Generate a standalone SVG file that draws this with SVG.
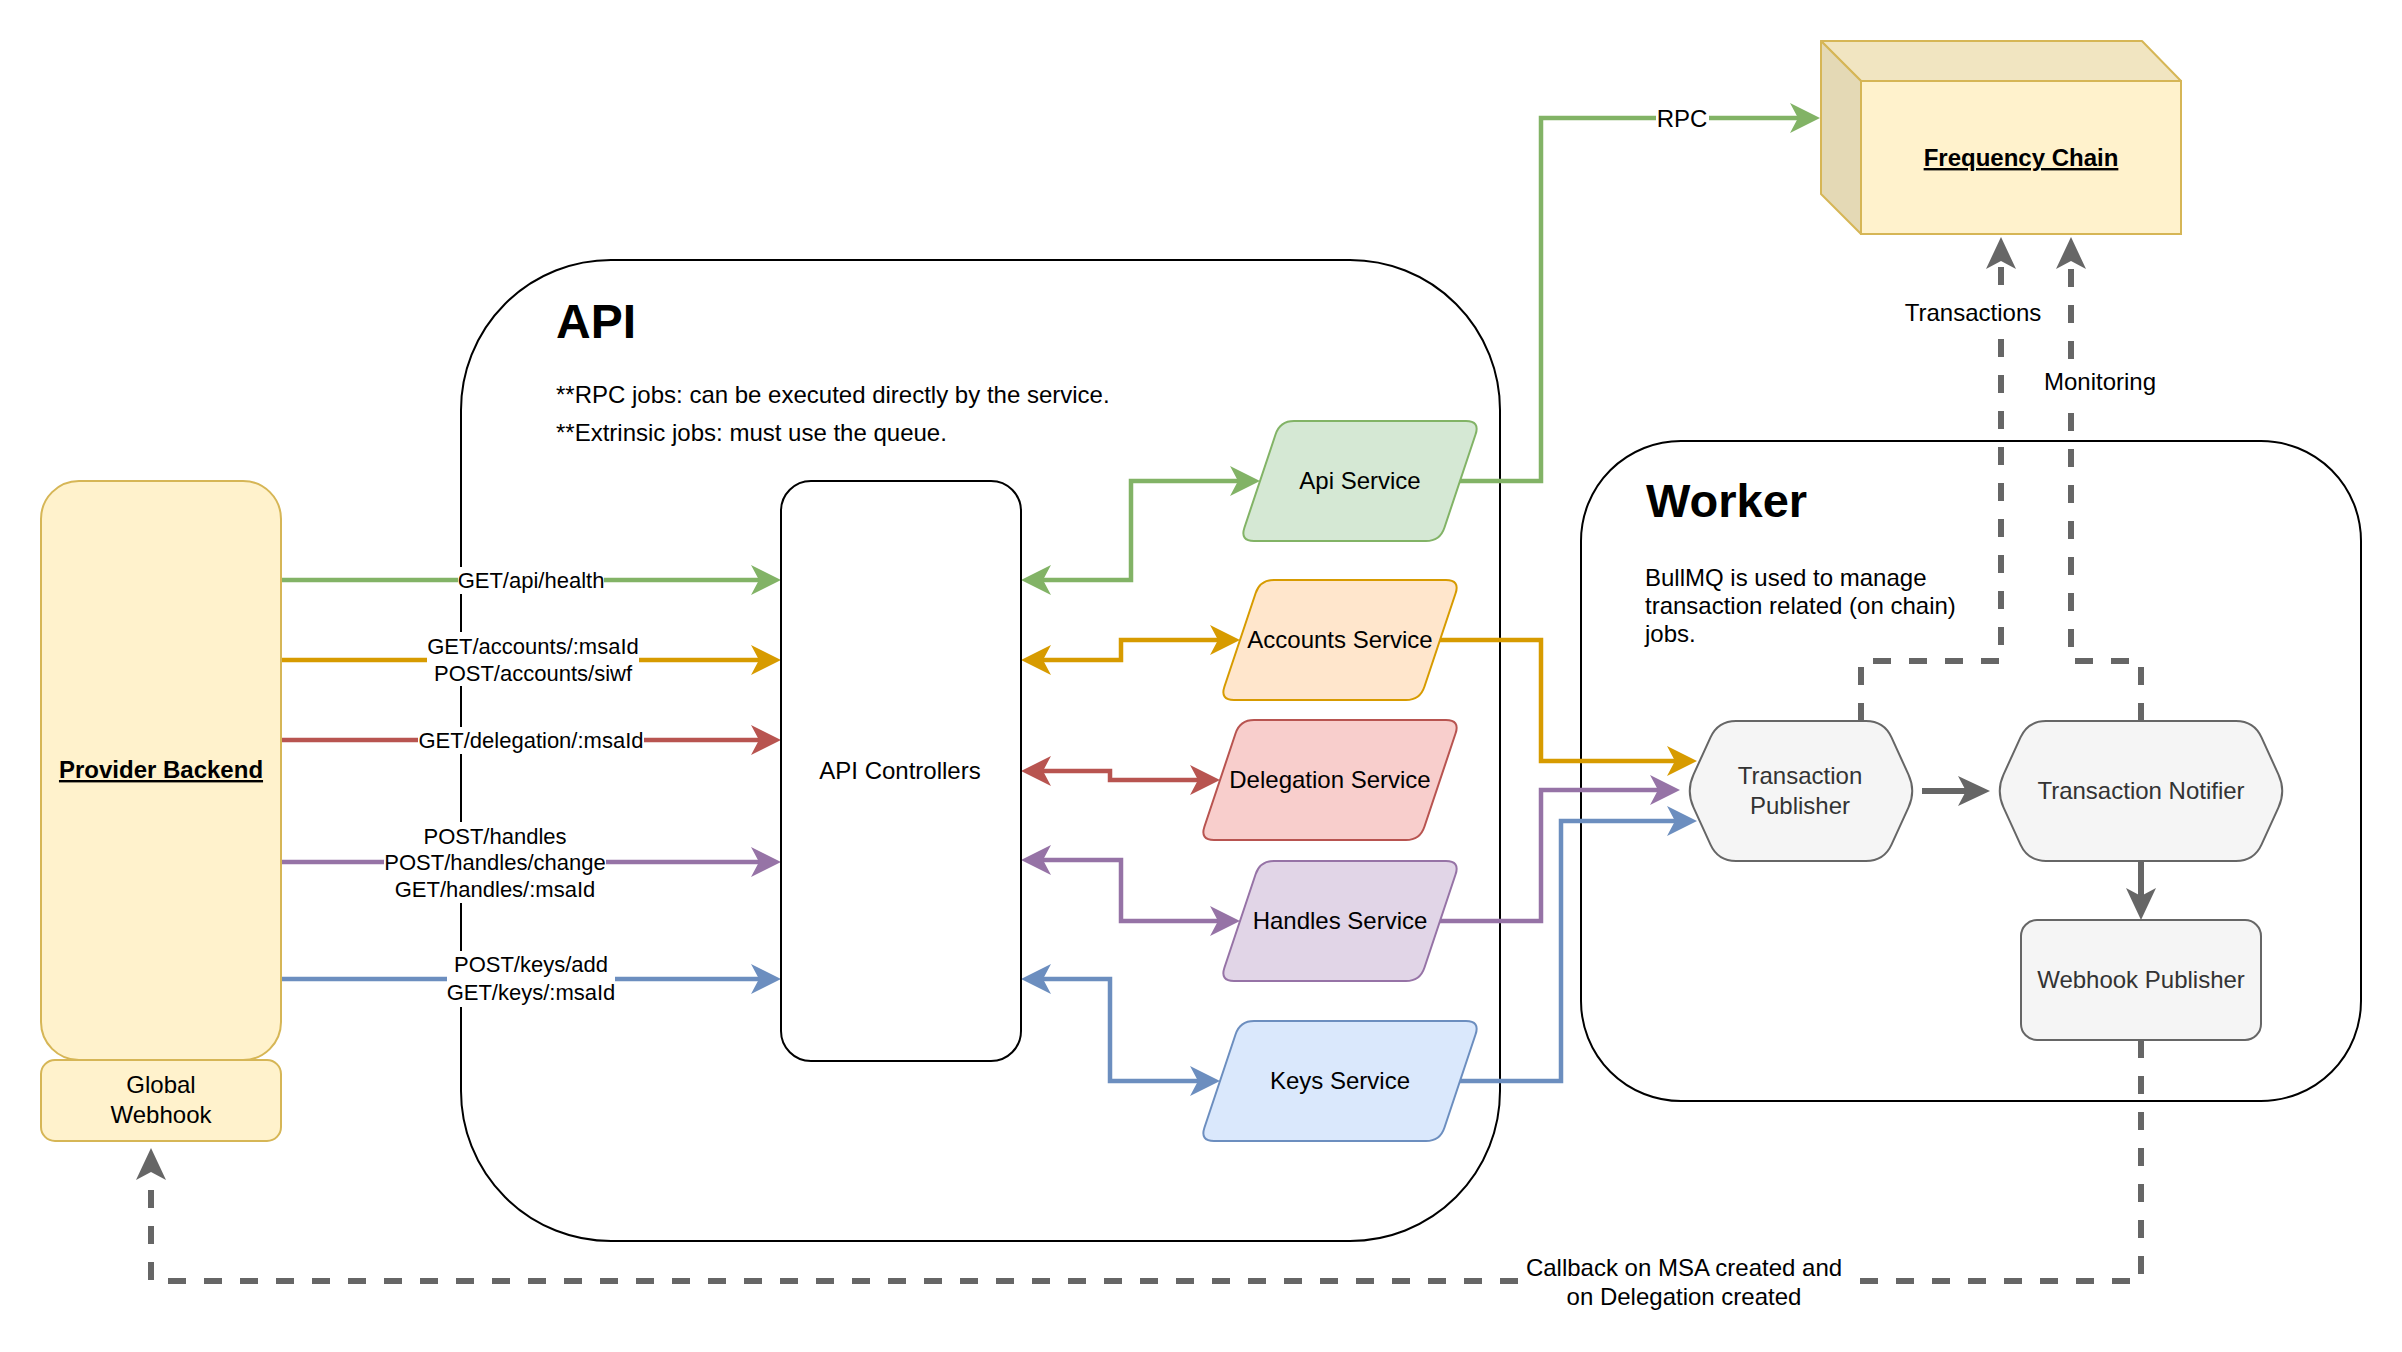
<svg xmlns="http://www.w3.org/2000/svg" width="2402" height="1352" viewBox="0 0 2402 1352">
<style>
text{font-family:"Liberation Sans",Arial,Helvetica,sans-serif;fill:#000}
.c{text-anchor:middle}
.n{font-size:24px}
.l{font-size:22px}
.b{font-weight:bold}
.u{text-decoration:underline}
.g3{fill:#333333}
.e{fill:none;stroke-width:4.5;stroke-linejoin:miter}
.gr{fill:none;stroke:#666666;stroke-width:6}
.d{stroke-dasharray:18 18}
.bg{fill:#ffffff}
</style>
<defs>
<marker id="mG" markerUnits="userSpaceOnUse" markerWidth="60" markerHeight="60" viewBox="-30 -30 60 60" refX="0" refY="0" orient="auto-start-reverse"><path d="M22,0 L-8,-15 L0,0 L-8,15 Z" fill="#82b366"/></marker>
<marker id="mO" markerUnits="userSpaceOnUse" markerWidth="60" markerHeight="60" viewBox="-30 -30 60 60" refX="0" refY="0" orient="auto-start-reverse"><path d="M22,0 L-8,-15 L0,0 L-8,15 Z" fill="#d79b00"/></marker>
<marker id="mR" markerUnits="userSpaceOnUse" markerWidth="60" markerHeight="60" viewBox="-30 -30 60 60" refX="0" refY="0" orient="auto-start-reverse"><path d="M22,0 L-8,-15 L0,0 L-8,15 Z" fill="#b85450"/></marker>
<marker id="mP" markerUnits="userSpaceOnUse" markerWidth="60" markerHeight="60" viewBox="-30 -30 60 60" refX="0" refY="0" orient="auto-start-reverse"><path d="M22,0 L-8,-15 L0,0 L-8,15 Z" fill="#9673a6"/></marker>
<marker id="mB" markerUnits="userSpaceOnUse" markerWidth="60" markerHeight="60" viewBox="-30 -30 60 60" refX="0" refY="0" orient="auto-start-reverse"><path d="M22,0 L-8,-15 L0,0 L-8,15 Z" fill="#6c8ebf"/></marker>
<marker id="mK" markerUnits="userSpaceOnUse" markerWidth="60" markerHeight="60" viewBox="-30 -30 60 60" refX="0" refY="0" orient="auto"><path d="M24,0 L-8,-15 L0,0 L-8,15 Z" fill="#666666"/></marker>
</defs>

<!-- containers -->
<g id="api-container">
<rect x="461" y="260" width="1039" height="981" rx="150" ry="150" fill="#ffffff" stroke="#000000" stroke-width="2"/>
<text x="556" y="338" class="b" font-size="48">API</text>
<text x="556" y="403" font-size="24">**RPC jobs: can be executed directly by the service.</text>
<text x="556" y="441" font-size="24">**Extrinsic jobs: must use the queue.</text>
</g>
<g id="worker-container">
<rect x="1581" y="441" width="780" height="660" rx="100" ry="100" fill="#ffffff" stroke="#000000" stroke-width="2"/>
<text x="1646" y="517" class="b" font-size="47">Worker</text>
<text x="1645" y="586" class="n">BullMQ is used to manage</text>
<text x="1645" y="614" class="n">transaction related (on chain)</text>
<text x="1645" y="642" class="n">jobs.</text>
</g>

<!-- connectors -->
<g id="connectors">
<path class="e" stroke="#82b366" d="M281,580 L759,580" marker-end="url(#mG)"/>
<path class="e" stroke="#d79b00" d="M281,660 L759,660" marker-end="url(#mO)"/>
<path class="e" stroke="#b85450" d="M281,740 L759,740" marker-end="url(#mR)"/>
<path class="e" stroke="#9673a6" d="M281,862 L759,862" marker-end="url(#mP)"/>
<path class="e" stroke="#6c8ebf" d="M281,979 L759,979" marker-end="url(#mB)"/>

<path class="e" stroke="#82b366" d="M1043,580 H1131 V481 H1238" marker-start="url(#mG)" marker-end="url(#mG)"/>
<path class="e" stroke="#d79b00" d="M1043,660 H1121 V640 H1218" marker-start="url(#mO)" marker-end="url(#mO)"/>
<path class="e" stroke="#b85450" d="M1043,771 H1110 V780 H1198" marker-start="url(#mR)" marker-end="url(#mR)"/>
<path class="e" stroke="#9673a6" d="M1043,860 H1121 V921 H1218" marker-start="url(#mP)" marker-end="url(#mP)"/>
<path class="e" stroke="#6c8ebf" d="M1043,979 H1110 V1081 H1198" marker-start="url(#mB)" marker-end="url(#mB)"/>

<path class="e" stroke="#82b366" d="M1460,481 H1541 V118 H1798" marker-end="url(#mG)"/>
<path class="e" stroke="#d79b00" d="M1440,640 H1541 V761 H1675" marker-end="url(#mO)"/>
<path class="e" stroke="#9673a6" d="M1440,921 H1541 V790 H1658" marker-end="url(#mP)"/>
<path class="e" stroke="#6c8ebf" d="M1460,1081 H1561 V821 H1675" marker-end="url(#mB)"/>

<path class="gr d" d="M1861,721 V661 H2001 V261" marker-end="url(#mK)"/>
<path class="gr d" d="M2141,721 V661 H2071 V261" marker-end="url(#mK)"/>
<path class="gr" d="M1922,791 H1966" marker-end="url(#mK)"/>
<path class="gr" d="M2141,862 V896" marker-end="url(#mK)"/>
<path class="gr d" d="M2141,1040 V1281 H151 V1172" marker-end="url(#mK)"/>

<!-- labels -->
<rect class="bg" x="458" y="567" width="146" height="27"/>
<text class="c l" x="531" y="588">GET/api/health</text>
<rect class="bg" x="427" y="632" width="212" height="54"/>
<text class="c l" x="533" y="654">GET/accounts/:msaId</text>
<text class="c l" x="533" y="681">POST/accounts/siwf</text>
<rect class="bg" x="418" y="727" width="226" height="27"/>
<text class="c l" x="531" y="748">GET/delegation/:msaId</text>
<rect class="bg" x="384" y="822" width="222" height="81"/>
<text class="c l" x="495" y="844">POST/handles</text>
<text class="c l" x="495" y="870">POST/handles/change</text>
<text class="c l" x="495" y="897">GET/handles/:msaId</text>
<rect class="bg" x="447" y="951" width="168" height="56"/>
<text class="c l" x="531" y="972">POST/keys/add</text>
<text class="c l" x="531" y="1000">GET/keys/:msaId</text>

<rect class="bg" x="1656" y="104" width="53" height="28"/>
<text class="c n" x="1682" y="127">RPC</text>
<rect class="bg" x="1904" y="298" width="138" height="30"/>
<text class="c n" x="1973" y="321">Transactions</text>
<rect class="bg" x="2042" y="367" width="116" height="30"/>
<text class="c n" x="2100" y="390">Monitoring</text>
<rect class="bg" x="1522" y="1253" width="324" height="60"/>
<text class="c n" x="1684" y="1276">Callback on MSA created and</text>
<text class="c n" x="1684" y="1305">on Delegation created</text>
</g>

<!-- nodes -->
<g id="provider-backend">
<rect x="41" y="481" width="240" height="579" rx="38" ry="38" fill="#fff2cc" stroke="#d6b656" stroke-width="2"/>
<text class="c n b u" x="161" y="778">Provider Backend</text>
</g>
<g id="global-webhook">
<rect x="41" y="1060" width="240" height="81" rx="14" ry="14" fill="#fff2cc" stroke="#d6b656" stroke-width="2"/>
<text class="c n" x="161" y="1093">Global</text>
<text class="c n" x="161" y="1123">Webhook</text>
</g>
<g id="api-controllers">
<rect x="781" y="481" width="240" height="580" rx="30" ry="30" fill="#ffffff" stroke="#000000" stroke-width="2"/>
<text class="c n" x="900" y="779">API Controllers</text>
</g>
<g id="api-service" transform="translate(1240,421)">
<path d="M4.4,106.7 L35.6,13.3 Q40,0 54,0 L226,0 Q240,0 235.6,13.3 L204.4,106.7 Q200,120 186,120 L14,120 Q0,120 4.4,106.7 Z" fill="#d5e8d4" stroke="#82b366" stroke-width="2"/>
<text class="c n" x="120" y="68">Api Service</text>
</g>
<g id="accounts-service" transform="translate(1220,580)">
<path d="M4.4,106.7 L35.6,13.3 Q40,0 54,0 L226,0 Q240,0 235.6,13.3 L204.4,106.7 Q200,120 186,120 L14,120 Q0,120 4.4,106.7 Z" fill="#ffe6cc" stroke="#d79b00" stroke-width="2"/>
<text class="c n" x="120" y="68">Accounts Service</text>
</g>
<g id="delegation-service" transform="translate(1200,720)">
<path d="M4.4,106.7 L35.6,13.3 Q40,0 54,0 L246,0 Q260,0 255.6,13.3 L224.4,106.7 Q220,120 206,120 L14,120 Q0,120 4.4,106.7 Z" fill="#f8cecc" stroke="#b85450" stroke-width="2"/>
<text class="c n" x="130" y="68">Delegation Service</text>
</g>
<g id="handles-service" transform="translate(1220,861)">
<path d="M4.4,106.7 L35.6,13.3 Q40,0 54,0 L226,0 Q240,0 235.6,13.3 L204.4,106.7 Q200,120 186,120 L14,120 Q0,120 4.4,106.7 Z" fill="#e1d5e7" stroke="#9673a6" stroke-width="2"/>
<text class="c n" x="120" y="68">Handles Service</text>
</g>
<g id="keys-service" transform="translate(1200,1021)">
<path d="M4.4,106.7 L35.6,13.3 Q40,0 54,0 L266,0 Q280,0 275.6,13.3 L244.4,106.7 Q240,120 226,120 L14,120 Q0,120 4.4,106.7 Z" fill="#dae8fc" stroke="#6c8ebf" stroke-width="2"/>
<text class="c n" x="140" y="68">Keys Service</text>
</g>
<g id="frequency-chain">
<polygon points="1821,41 2142,41 2181,81 1861,81" fill="#f1e5c1" stroke="#d6b656" stroke-width="2" stroke-linejoin="round"/>
<polygon points="1821,41 1861,81 1861,234 1821,194" fill="#e4d9b5" stroke="#d6b656" stroke-width="2" stroke-linejoin="round"/>
<rect x="1861" y="81" width="320" height="153" fill="#fff2cc" stroke="#d6b656" stroke-width="2"/>
<text class="c n b u" x="2021" y="166">Frequency Chain</text>
</g>
<g id="transaction-publisher">
<path d="M1693.5,774.6 L1710.5,737.4 Q1718,721 1736,721 L1866,721 Q1884,721 1891.5,737.4 L1908.5,774.6 Q1916,791 1908.5,807.4 L1891.5,844.6 Q1884,861 1866,861 L1736,861 Q1718,861 1710.5,844.6 L1693.5,807.4 Q1686,791 1693.5,774.6 Z" fill="#f5f5f5" stroke="#666666" stroke-width="2"/>
<text class="c n g3" x="1800" y="784">Transaction</text>
<text class="c n g3" x="1800" y="814">Publisher</text>
</g>
<g id="transaction-notifier">
<path d="M2003.5,774.6 L2020.5,737.4 Q2028,721 2046,721 L2236,721 Q2254,721 2261.5,737.4 L2278.5,774.6 Q2286,791 2278.5,807.4 L2261.5,844.6 Q2254,861 2236,861 L2046,861 Q2028,861 2020.5,844.6 L2003.5,807.4 Q1996,791 2003.5,774.6 Z" fill="#f5f5f5" stroke="#666666" stroke-width="2"/>
<text class="c n g3" x="2141" y="799">Transaction Notifier</text>
</g>
<g id="webhook-publisher">
<rect x="2021" y="920" width="240" height="120" rx="16" ry="16" fill="#f5f5f5" stroke="#666666" stroke-width="2"/>
<text class="c n g3" x="2141" y="988">Webhook Publisher</text>
</g>
</svg>
